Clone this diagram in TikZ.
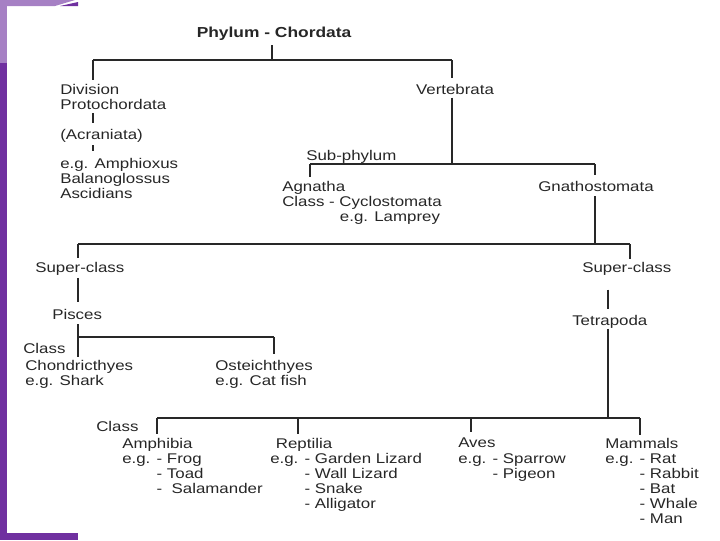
\documentclass[tikz,border=0pt]{standalone}
\usepackage{fontspec}
\setmainfont{Liberation Sans}[FakeStretch=1.2]
\definecolor{framepurple}{RGB}{112,48,160}
\definecolor{framelilac}{RGB}{166,128,196}
\definecolor{linegray}{RGB}{40,40,40}
\newcommand{\egpad}{\hphantom{e.g. }}
\tikzset{
  txt/.style={anchor=north west, inner sep=0pt, align=left, text=black!85,
    font=\fontsize{10}{10.7}\selectfont},
  bar/.style={draw=linegray, line width=1.4pt},
  stem/.style={draw=linegray, line width=2pt},
}

\begin{document}
\begin{tikzpicture}[x=0.025cm, y=-0.025cm]
\useasboundingbox (0,0) rectangle (720,540);
% frame
\fill[framepurple] (0,63) rectangle (7,540);
\fill[framepurple] (0,533) rectangle (78,540);
\fill[framelilac] (0,0) rectangle (7,63);
\fill[framelilac] (0,0) -- (75,0) -- (55,6) -- (0,6) -- cycle;
\fill[framepurple] (60,6) -- (78,2) -- (78,6) -- cycle;

% texts
\node[txt, anchor=north, font=\bfseries\fontsize{10.3}{12}\selectfont] (phylum) at (274,27) {Phylum - Chordata};
\node[txt] (proto) at (60,84) {Division\\Protochordata};
\node[txt] (acran) at (60,129) {(Acraniata)};
\node[txt] (amphiox) at (60,158) {e.g. Amphioxus\\Balanoglossus\\Ascidians};
\node[txt, anchor=north] (verte) at (455,84) {Vertebrata};
\node[txt] (subph) at (306,150) {Sub-phylum};
\node[txt] (agna) at (282,181) {Agnatha\\Class - Cyclostomata\\\hspace*{41pt}e.g. Lamprey};
\node[txt] (gnath) at (538,181) {Gnathostomata};
\node[txt] (supL) at (35,262) {Super-class};
\node[txt] (pisc) at (52,309) {Pisces};
\node[txt] (clsP) at (23,343) {Class};
\node[txt] (chond) at (25,360) {Chondricthyes\\e.g. Shark};
\node[txt] (oste) at (215,360) {Osteichthyes\\e.g. Cat fish};
\node[txt] (supR) at (582,262) {Super-class};
\node[txt] (tetra) at (572,315) {Tetrapoda};
\node[txt] (clsT) at (96,421) {Class};
\node[txt] (amph) at (122,438) {Amphibia\\e.g. - Frog\\\egpad- Toad\\\egpad-\ \ Salamander};
\node[txt] (rept) at (270,438) {\hspace*{4pt}Reptilia\\e.g. - Garden Lizard\\\egpad- Wall Lizard\\\egpad- Snake\\\egpad- Alligator};
\node[txt] (aves) at (458,438) {Aves\\e.g. - Sparrow\\\egpad- Pigeon};
\node[txt] (mamm) at (605,438) {Mammals\\e.g. - Rat\\\egpad- Rabbit\\\egpad- Bat\\\egpad- Whale\\\egpad- Man};

% junctions
\coordinate (jPhy) at (272,60);
\coordinate (jProto) at (93,60);
\coordinate (jVert) at (452,60);
\coordinate (jSub) at (452,164);
\coordinate (jAgn) at (310,164);
\coordinate (jGna) at (595,164);
\coordinate (jCls) at (595,244);
\coordinate (jSupL) at (78,244);
\coordinate (jSupR) at (630,244);
\coordinate (jPis) at (78,337);
\coordinate (jOst) at (274,337);
\coordinate (jTet) at (608,418);
\coordinate (jAmph) at (157,418);
\coordinate (jRept) at (298,418);
\coordinate (jAves) at (471,418);
\coordinate (jMamm) at (640,418);

% connectors
\draw[stem, shorten <=3pt] (jPhy |- phylum.south) -- (jPhy);
\draw[bar] (jProto) -- (jVert);
\draw[stem, shorten >=3pt] (jProto) -- (jProto |- proto.north);
\draw[stem, shorten <=2pt, shorten >=4pt] (jProto |- proto.south) -- (jProto |- acran.north);
\draw[stem, shorten <=2pt, shorten >=5pt] (jProto |- acran.south) -- (jProto |- amphiox.north);
\draw[stem, shorten >=4pt] (jVert) -- (jVert |- verte.north);
\draw[stem, shorten <=2pt] (jVert |- verte.south) -- (jSub);
\draw[bar] (jAgn) -- (jGna);
\draw[stem, shorten >=3pt] (jAgn) -- (jAgn |- agna.north);
\draw[stem, shorten >=4pt] (jGna) -- (jGna |- gnath.north);
\draw[stem, shorten <=3pt] (jGna |- gnath.south) -- (jCls);
\draw[bar] (jSupL) -- (jSupR);
\draw[stem, shorten >=3pt] (jSupL) -- (jSupL |- supL.north);
\draw[stem, shorten >=2pt] (jSupR) -- (jSupR |- supR.north);
\draw[stem, shorten <=1.5pt, shorten >=5pt] (jPis |- supL.south) -- (jPis |- pisc.north);
\draw[stem, shorten <=3pt, shorten >=2pt] (jPis |- pisc.south) -- (jPis |- chond.north);
\draw[bar] (jPis) -- (jOst);
\draw[stem, shorten >=4pt] (jOst) -- (jOst |- oste.north);
\draw[stem, shorten <=10pt, shorten >=4pt] (jTet |- supR.south) -- (jTet |- tetra.north);
\draw[stem] (jTet |- tetra.south) -- (jTet);
\draw[bar] (jAmph) -- (jMamm);
\draw[stem, shorten >=3pt] (jAmph) -- (jAmph |- amph.north);
\draw[stem, shorten >=3pt] (jRept) -- (jRept |- rept.north);
\draw[stem, shorten >=4pt] (jAves) -- (jAves |- aves.north);
\draw[stem, shorten >=2pt] (jMamm) -- (jMamm |- mamm.north);
\end{tikzpicture}
\end{document}
